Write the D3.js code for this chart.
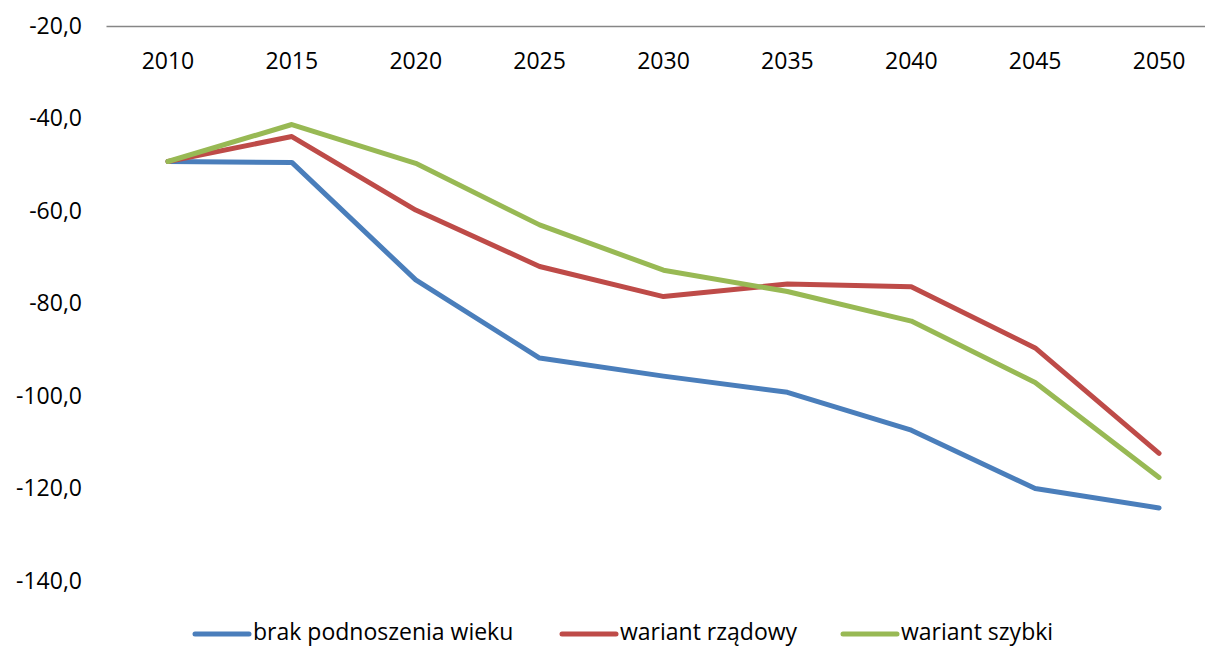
<!DOCTYPE html>
<html><head><meta charset="utf-8">
<script src="https://cdn.jsdelivr.net/npm/d3@7"></script>
<style>body{margin:0;background:#fff}svg{display:block}text{font-family:"Open Sans","Noto Sans",sans-serif;fill:#000}</style>
</head><body><svg id="c" width="1205" height="648"></svg>
<script>
const years = ["2010","2015","2020","2025","2030","2035","2040","2045","2050"];
const brak = [-49.3,-49.5,-74.9,-91.8,-95.7,-99.2,-107.4,-120.0,-124.2];
const rzadowy = [-49.3,-43.9,-59.8,-72.0,-78.5,-75.8,-76.4,-89.6,-112.4];
const szybki = [-49.3,-41.3,-49.7,-63.0,-72.8,-77.4,-83.8,-97.1,-117.6];
const seriesNames = ["brak podnoszenia wieku","wariant rządowy","wariant szybki"];
const seriesColors = ["#4a7ebb","#be4b48","#98b954"];
const yTicks = [-20,-40,-60,-80,-100,-120,-140];

const svg = d3.select("#c");
const x = d3.scaleBand().domain(years).range([106,1221]);
const y = d3.scaleLinear().domain([-20,-140]).range([26,581]);
const fmt = v => d3.format(".1f")(v).replace(".",",").replace("−","-");

// category axis at top (value -20)
const xAxis = d3.axisBottom(x).tickSize(0).tickPadding(27);
const gx = svg.append("g").attr("transform",`translate(0,${y(-20)})`).call(xAxis);
gx.select(".domain").attr("stroke","#868686").attr("stroke-width",1.5);
gx.selectAll("text").style("font-size","23px").attr("fill","#000");

// value axis labels (no line)
const yAxis = d3.axisLeft(y).tickValues(yTicks).tickSize(0).tickPadding(0).tickFormat(fmt);
const gy = svg.append("g").attr("transform","translate(82,0)").call(yAxis);
gy.select(".domain").remove();
gy.selectAll("text").style("font-size","23px").attr("fill","#000");

const data = [brak, rzadowy, szybki];
const line = d3.line().x((d,i)=>x(years[i])+x.bandwidth()/2).y(d=>y(d));
data.forEach((s,k)=>{
  svg.append("path").datum(s).attr("d",line).attr("fill","none")
    .attr("stroke",seriesColors[k]).attr("stroke-width",5)
    .attr("stroke-linejoin","round").attr("stroke-linecap","round");
});

// legend
const legX = [195,562,843];
const lg = svg.append("g");
seriesNames.forEach((n,k)=>{
  const g = lg.append("g").attr("transform",`translate(${legX[k]},634)`);
  g.append("line").attr("x1",0).attr("x2",54).attr("y1",0).attr("y2",0)
    .attr("stroke",seriesColors[k]).attr("stroke-width",5).attr("stroke-linecap","round");
  g.append("text").attr("x",58).attr("y",6).style("font-size","23px").text(n);
});
</script></body></html>
